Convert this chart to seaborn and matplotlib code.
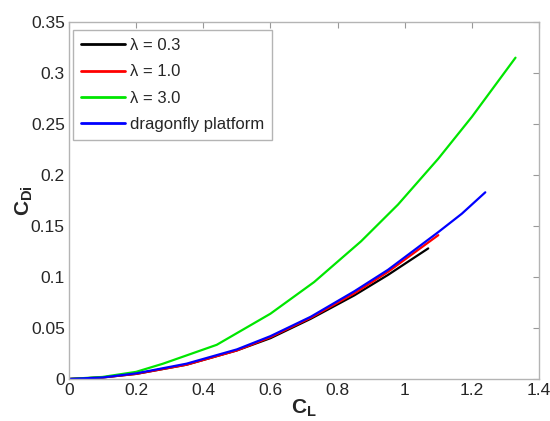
import numpy as np
import pandas as pd
import seaborn as sns
import matplotlib
matplotlib.use('Agg')
import matplotlib.pyplot as plt

# values
cl_03 = [0, 0.1, 0.2, 0.35, 0.5, 0.6, 0.72, 0.85, 0.95, 1.07]
cd_03 = [0, 0.0015, 0.005, 0.014, 0.028, 0.040, 0.059, 0.082, 0.102, 0.128]

cl_10 = [0, 0.1, 0.2, 0.35, 0.5, 0.6, 0.72, 0.85, 0.95, 1.10]
cd_10 = [0, 0.0015, 0.005, 0.014, 0.028, 0.041, 0.060, 0.084, 0.105, 0.141]

cl_30 = [0, 0.1, 0.2, 0.28, 0.44, 0.6, 0.73, 0.87, 0.98, 1.1, 1.2, 1.33]
cd_30 = [0, 0.002, 0.007, 0.015, 0.0335, 0.064, 0.095, 0.135, 0.171, 0.216, 0.257, 0.315]

cl_df = [0, 0.1, 0.2, 0.35, 0.5, 0.6, 0.72, 0.85, 0.95, 1.1, 1.17, 1.24]
cd_df = [0, 0.0015, 0.0055, 0.015, 0.029, 0.042, 0.061, 0.086, 0.107, 0.144, 0.162, 0.183]

labels = ['λ = 0.3', 'λ = 1.0', 'λ = 3.0', 'dragonfly platform']
colors = ['#000000', '#ff0000', '#00e600', '#0000ff']

frames = []
for lab, x, y in zip(labels, [cl_03, cl_10, cl_30, cl_df], [cd_03, cd_10, cd_30, cd_df]):
    frames.append(pd.DataFrame({'CL': x, 'CD': y, 'case': lab}))
df = pd.concat(frames, ignore_index=True)

sns.set_style('white')
plt.rcParams['font.family'] = ['Liberation Sans', 'DejaVu Sans']
plt.rcParams['mathtext.fontset'] = 'custom'
plt.rcParams['mathtext.rm'] = 'Liberation Sans'
plt.rcParams['mathtext.bf'] = 'Liberation Sans:bold'

fig = plt.figure(figsize=(5.5, 4.21), dpi=100)
ax = fig.add_axes([0.1255, 0.0998, 0.8545, 0.848])

sns.lineplot(data=df, x='CL', y='CD', hue='case', palette=colors,
             hue_order=labels, sort=False, estimator=None, lw=1.6, ax=ax)

ax.set_xlim(0, 1.4)
ax.set_ylim(0, 0.35)
ax.set_xticks(np.arange(0, 1.41, 0.2))
ax.set_xticklabels(['0', '0.2', '0.4', '0.6', '0.8', '1', '1.2', '1.4'])
ax.set_yticks(np.arange(0, 0.351, 0.05))
ax.set_yticklabels(['0', '0.05', '0.1', '0.15', '0.2', '0.25', '0.3', '0.35'])
ax.tick_params(direction='in', length=4, color='#999999', top=True, right=True,
               labelsize=12.5, pad=3, width=0.8)
for s in ax.spines.values():
    s.set_color('#b4b4b4')
    s.set_linewidth(1.0)

ax.set_xlabel(r'$\mathbf{C_L}$', fontsize=15, labelpad=0)
ax.set_ylabel(r'$\mathbf{C_{Di}}$', fontsize=15, labelpad=-3)

leg = ax.legend(loc='upper left', bbox_to_anchor=(0.0085, 0.978), borderaxespad=0,
                fontsize=12, handlelength=2.6, labelspacing=0.68,
                handletextpad=0.3, fancybox=False, framealpha=1, borderpad=0.5)
leg.get_frame().set_edgecolor('#b4b4b4')
leg.get_frame().set_linewidth(1.0)
for h in leg.get_lines():
    h.set_linewidth(2.0)

fig.savefig('out.png', dpi=100)
